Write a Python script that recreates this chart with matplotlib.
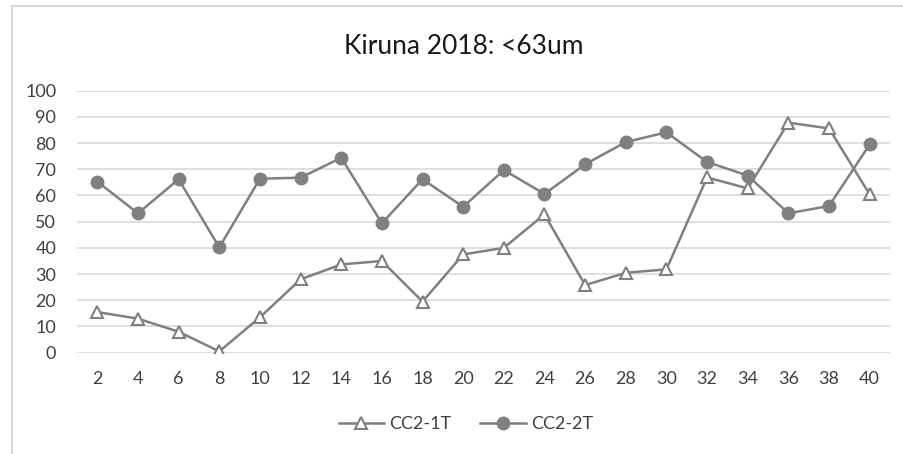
import matplotlib.pyplot as plt
from matplotlib.lines import Line2D

depth = [2, 4, 6, 8, 10, 12, 14, 16, 18, 20, 22, 24, 26, 28, 30, 32, 34, 36, 38, 40]
cc2_1t = [15.5, 13, 8, 0.5, 13.5, 28, 33.7, 35, 19.5, 37.5,
          40, 52.8, 25.8, 30.5, 31.8, 66.9, 62.7, 87.8, 85.6, 60.4]
cc2_2t = [65.3, 53.2, 66.2, 40.2, 66.4, 66.8, 74.4, 49.4, 66.2, 55.7,
          69.7, 60.6, 71.9, 80.4, 84.1, 72.8, 67.6, 53.2, 56, 79.5]
y_ticks = list(range(0, 101, 10))

plt.rcParams['font.family'] = ['Lato', 'DejaVu Sans']
grey = '#808080'
text_col = '#404040'

fig = plt.figure(figsize=(9.04, 4.54), dpi=100)

# chart frame like the Excel chart object
fig.add_artist(Line2D([12 / 904, 12 / 904], [0, 1 - 6 / 454], color='#d9d9d9', lw=1.5,
                      transform=fig.transFigure))
fig.add_artist(Line2D([12 / 904, 1], [1 - 6 / 454, 1 - 6 / 454], color='#d9d9d9', lw=1.5,
                      transform=fig.transFigure))

ax = fig.add_axes([77 / 904, 1 - 352.7 / 454, (890 - 77) / 904, (352.7 - 90.7) / 454])

x = list(range(len(depth)))
ax.plot(x, cc2_1t, color=grey, lw=1.8, marker='^', ms=8, mfc='white', mec=grey, mew=1.5,
        label='CC2-1T', zorder=3)
ax.plot(x, cc2_2t, color=grey, lw=1.8, marker='o', ms=9, mfc=grey, mec=grey,
        label='CC2-2T', zorder=3)

ax.set_xlim(-0.5, len(depth) - 0.5)
ax.set_ylim(0, 100)
ax.set_yticks(y_ticks)
ax.set_xticks(x)
ax.set_xticklabels([str(d) for d in depth])
ax.grid(axis='y', color='#d9d9d9', lw=1.2)
ax.set_axisbelow(True)
for s in ax.spines.values():
    s.set_visible(False)
ax.tick_params(axis='both', length=0, labelsize=13, labelcolor=text_col)
ax.tick_params(axis='y', pad=15)
ax.tick_params(axis='x', pad=13)

fig.text(464 / 904, 1 - 47 / 454, 'Kiruna 2018: <63um', ha='center', va='center',
         fontsize=19, color='#1a1a1a')

fig.legend(loc='center', bbox_to_anchor=(466 / 904, 1 - 424 / 454), ncol=2, frameon=False,
           fontsize=13, handlelength=2.5, columnspacing=1.6, handletextpad=0.3,
           labelcolor=text_col)

fig.savefig('out.png', dpi=100)
